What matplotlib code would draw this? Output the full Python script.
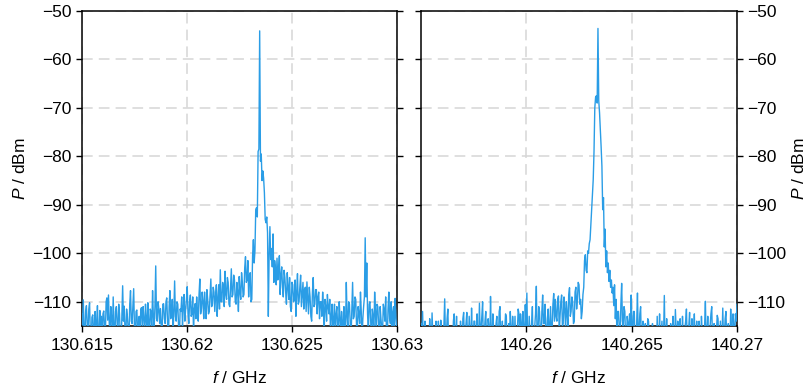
import numpy as np
import matplotlib
matplotlib.use('Agg')
import matplotlib.pyplot as plt

plt.rcParams['font.family'] = 'Liberation Sans'
plt.rcParams['mathtext.fontset'] = 'custom'
plt.rcParams['mathtext.rm'] = 'Liberation Sans'
plt.rcParams['mathtext.it'] = 'Liberation Sans:italic'

# ==============================
# sweep settings (401 points per span)
# ==============================
f_start_a, f_stop_a = 130.615, 130.630
f_start_b, f_stop_b = 140.255, 140.270
n_points = 401

# trace A, dBm
p_a = [
    -112.5, -114.8, -109.6, -116.0, -118.0, -112.0, -110.8, -115.0, -116.5, -111.5,
    -110.2, -117.0, -119.5, -113.2, -112.7, -115.5, -117.0, -112.0, -121.0, -114.0,
    -110.8, -116.2, -118.5, -111.8, -115.8, -113.0, -120.0, -112.5, -111.9, -115.0,
    -117.2, -110.0, -109.2, -113.8, -108.6, -114.5, -116.0, -111.0, -113.5, -116.5,
    -109.0, -115.0, -119.0, -112.0, -111.0, -114.5, -116.5, -110.5, -112.5, -117.0,
    -120.5, -113.0, -106.7, -114.0, -110.9, -116.0, -117.5, -111.5, -113.0, -115.5,
    -118.0, -110.5, -107.7, -114.0, -114.5, -111.0, -107.3, -115.5, -119.0, -112.0,
    -111.7, -116.0, -116.0, -113.0, -120.0, -111.5, -111.2, -115.0, -111.0, -113.5,
    -117.5, -110.5, -113.5, -116.0, -110.2, -114.0, -118.5, -111.5, -112.0, -115.5,
    -107.7, -113.0, -115.5, -111.0, -102.6, -113.5, -114.0, -110.0, -111.5, -114.5,
    -111.4, -115.0, -117.0, -110.5, -110.4, -113.5, -114.5, -110.0, -109.2, -114.0,
    -119.5, -111.0, -107.7, -113.5, -113.0, -109.5, -116.5, -112.0, -105.7, -113.0,
    -114.0, -110.0, -110.5, -115.0, -118.0, -111.5, -112.0, -109.0, -115.0, -111.0,
    -108.5, -114.0, -111.5, -109.5, -106.9, -112.5, -114.5, -110.0, -108.6, -113.0,
    -112.5, -109.0, -116.0, -111.5, -110.4, -113.5, -109.0, -112.0, -114.0, -108.5,
    -105.3, -112.5, -111.5, -108.0, -110.0, -113.5, -108.0, -111.0, -113.5, -107.5,
    -109.5, -112.5, -112.0, -108.5, -105.3, -111.0, -110.5, -107.0, -108.0, -112.0,
    -108.9, -106.5, -113.0, -109.5, -106.5, -111.5, -103.4, -110.0, -110.0, -106.0,
    -107.0, -111.0, -103.7, -108.5, -109.5, -105.0, -106.0, -110.5, -111.0, -107.0,
    -103.2, -109.0, -108.5, -104.5, -105.5, -110.0, -110.5, -106.0, -108.0, -112.0,
    -104.8, -108.0, -109.5, -104.0, -106.0, -109.0, -108.5, -103.0, -100.7, -106.0,
    -105.5, -101.5, -109.0, -104.5, -104.0, -110.0, -109.5, -100.5, -97.2, -102.0,
    -99.5, -91.0, -90.6, -92.5, -79.0, -78.5, -54.1, -81.0, -79.5, -85.0,
    -83.0, -84.5, -87.5, -93.0, -93.7, -92.5, -95.8, -113.0, -100.3, -94.5,
    -101.3, -99.0, -102.8, -96.0, -106.0, -101.5, -103.0, -106.5, -101.0, -105.5,
    -103.4, -100.5, -108.5, -104.5, -102.8, -107.0, -109.0, -103.5, -105.0, -108.0,
    -110.5, -104.0, -107.0, -109.5, -105.0, -111.0, -112.0, -106.0, -106.5, -110.0,
    -109.5, -105.5, -113.0, -108.0, -104.2, -110.5, -110.0, -107.0, -104.5, -111.0,
    -108.5, -106.0, -111.5, -107.5, -107.0, -112.0, -105.9, -109.0, -112.5, -107.0,
    -109.0, -113.0, -114.0, -108.0, -105.0, -111.0, -110.5, -107.5, -107.5, -112.5,
    -109.0, -108.0, -113.5, -110.0, -110.0, -113.0, -108.0, -111.5, -115.5, -109.5,
    -111.0, -114.0, -108.5, -111.0, -112.5, -109.5, -117.0, -113.0, -110.5, -115.5,
    -114.0, -110.5, -118.0, -112.5, -111.0, -115.0, -116.0, -110.0, -113.5, -116.5,
    -112.0, -114.0, -119.0, -111.0, -114.5, -116.0, -106.0, -113.0, -115.5, -110.0,
    -110.5, -114.5, -117.5, -111.5, -106.0, -113.5, -113.0, -109.0, -109.5, -115.0,
    -116.0, -111.0, -112.5, -114.5, -108.0, -112.0, -118.0, -113.5, -111.0, -109.0,
    -96.8, -109.0, -102.0, -112.5, -116.5, -110.5, -110.0, -114.0, -119.0, -111.5,
    -113.0, -116.5, -108.0, -112.0, -117.0, -110.5, -111.0, -114.5, -120.0, -111.0,
    -113.5, -115.5, -116.5, -110.5, -111.5, -114.0, -109.0, -116.0, -118.0, -111.5,
    -108.0, -113.5, -114.5, -110.0, -119.5, -112.0, -111.0, -115.5, -109.3, -113.0,
    -116.0,
]

# trace B, dBm
p_b = [
    -114.5, -117.5, -112.0, -119.0, -119.0, -114.0, -121.0, -116.0, -117.5, -120.0,
    -120.0, -113.5, -118.0, -120.5, -112.3, -117.0, -122.0, -118.5, -116.5, -114.0,
    -119.5, -121.0, -114.0, -117.0, -121.0, -113.8, -116.0, -119.5, -120.5, -115.0,
    -109.4, -118.0, -118.5, -113.5, -111.5, -119.0, -120.0, -115.5, -117.0, -121.0,
    -121.5, -114.0, -112.5, -118.0, -118.0, -113.0, -120.0, -116.5, -116.5, -120.5,
    -114.0, -117.0, -121.0, -113.5, -112.2, -119.0, -117.5, -114.5, -112.2, -118.5,
    -119.0, -113.0, -116.5, -120.0, -111.3, -117.5, -120.5, -114.0, -114.0, -119.0,
    -118.0, -112.5, -121.0, -117.0, -110.3, -118.0, -115.5, -113.0, -110.0, -119.5,
    -117.0, -114.0, -112.0, -118.5, -120.0, -113.5, -115.5, -120.5, -108.9, -117.0,
    -119.0, -112.5, -116.0, -119.0, -121.5, -114.5, -113.0, -118.0, -117.5, -112.0,
    -111.0, -119.5, -118.5, -114.0, -121.0, -116.5, -116.0, -112.5, -113.0, -119.0,
    -120.0, -114.5, -117.5, -112.0, -115.5, -120.0, -113.0, -116.5, -119.5, -113.0,
    -121.0, -117.0, -116.0, -111.5, -112.5, -118.0, -112.5, -114.5, -118.0, -112.0,
    -115.5, -119.5, -110.6, -116.0, -108.2, -117.5, -119.0, -113.0, -116.5, -120.0,
    -114.8, -111.0, -120.5, -116.5, -115.0, -112.5, -106.8, -118.0, -117.5, -111.0,
    -112.0, -116.0, -119.0, -112.0, -108.6, -114.5, -114.5, -110.5, -116.0, -119.0,
    -113.5, -111.5, -118.5, -114.5, -111.0, -117.0, -116.0, -110.5, -108.3, -114.0,
    -109.5, -113.0, -114.0, -109.5, -108.8, -116.5, -113.0, -110.0, -108.6, -115.0,
    -114.5, -109.0, -111.5, -115.5, -110.0, -112.5, -115.5, -108.5, -107.1, -113.0,
    -112.0, -109.0, -110.0, -114.5, -114.0, -108.0, -107.0, -111.5, -109.5, -106.0,
    -106.5, -110.5, -109.5, -113.5, -112.0, -108.5, -107.0, -101.5, -100.3, -103.5,
    -104.0, -99.5, -100.0, -98.0, -97.2, -94.0, -90.4, -88.0, -84.8, -79.0,
    -70.0, -67.8, -67.5, -69.0, -53.6, -68.5, -71.0, -74.5, -78.0, -82.0,
    -91.0, -88.5, -98.7, -95.0, -102.8, -99.5, -104.0, -102.0, -105.8, -103.5,
    -107.0, -105.5, -108.2, -107.0, -110.8, -106.5, -113.5, -109.5, -117.0, -112.0,
    -112.0, -115.5, -118.5, -110.5, -106.2, -114.0, -115.0, -111.0, -112.0, -117.5,
    -119.0, -113.0, -114.5, -116.5, -112.5, -118.0, -108.6, -115.0, -117.5, -112.0,
    -112.0, -119.0, -120.0, -114.5, -108.2, -117.0, -116.5, -112.5, -111.0, -119.0,
    -118.0, -114.0, -121.0, -116.0, -114.5, -120.5, -119.5, -113.5, -114.0, -118.0,
    -117.0, -121.0, -121.5, -114.5, -118.5, -120.0, -115.5, -117.5, -120.0, -113.0,
    -122.0, -118.0, -112.5, -120.0, -117.0, -114.0, -120.5, -117.5, -108.7, -119.0,
    -118.0, -113.5, -121.0, -117.0, -116.5, -120.5, -114.5, -118.0, -119.5, -113.0,
    -117.0, -120.0, -111.6, -116.0, -120.0, -114.0, -116.0, -119.5, -113.5, -117.0,
    -121.5, -113.0, -118.0, -120.0, -115.5, -114.0, -111.5, -118.5, -119.0, -115.0,
    -112.2, -120.0, -118.5, -113.5, -120.5, -117.0, -112.5, -119.5, -117.0, -114.0,
    -121.0, -118.0, -114.0, -120.5, -119.5, -113.0, -116.5, -119.0, -121.5, -115.0,
    -109.9, -118.5, -117.5, -113.0, -120.0, -116.0, -115.0, -112.5, -111.0, -118.0,
    -118.5, -114.5, -121.0, -117.0, -116.0, -112.8, -113.5, -119.0, -119.0, -114.0,
    -120.5, -117.5, -111.3, -119.0, -117.0, -113.5, -112.0, -118.0, -121.0, -114.5,
    -116.5, -119.5, -111.5, -116.0, -119.0, -112.5, -115.0, -118.0, -112.5, -114.0,
    -110.5,
]

xticks_a = [130.615, 130.62, 130.625, 130.63]
xticks_b = [140.26, 140.265, 140.27]
yticks = [-110, -100, -90, -80, -70, -60, -50]

line_color = '#2A9DE6'
grid_color = '#d6d6d6'

f_a = np.linspace(f_start_a, f_stop_a, n_points)
f_b = np.linspace(f_start_b, f_stop_b, n_points)

fig = plt.figure(figsize=(8.08, 3.9), dpi=100)
ax_a = fig.add_axes([81.7 / 808, 64 / 390, 315 / 808, 315 / 390])
ax_b = fig.add_axes([421 / 808, 64 / 390, 316 / 808, 315 / 390])

for ax, f, p, f0, f1, xt in [(ax_a, f_a, p_a, f_start_a, f_stop_a, xticks_a),
                             (ax_b, f_b, p_b, f_start_b, f_stop_b, xticks_b)]:
    ax.plot(f, p, color=line_color, lw=1.0, zorder=3)
    ax.set_xlim(f0, f1)
    ax.set_ylim(-115, -50)
    ax.set_xticks(xt)
    ax.set_xticklabels([f'{v:g}' for v in xt])
    ax.set_yticks(yticks)
    ax.set_yticklabels([f'\u2212{abs(v)}' for v in yticks])
    ax.grid(True, color=grid_color, lw=1.1, linestyle=(0, (7, 4)), zorder=0)
    ax.set_axisbelow(True)
    ax.tick_params(direction='out', length=4, width=1, labelsize=12.5,
                   left=True, right=True, colors='black')
    ax.tick_params(axis='x', pad=5)
    for s in ax.spines.values():
        s.set_linewidth(1.1)
        s.set_color('black')
    ax.set_xlabel('$f$ / GHz', fontsize=12.5, labelpad=12)

ax_a.tick_params(labelleft=True, labelright=False)
ax_a.set_ylabel('$P$ / dBm', fontsize=12.5, labelpad=3)

ax_b.tick_params(labelleft=False, labelright=True)
ax_b.yaxis.set_label_position('right')
ax_b.set_ylabel('$P$ / dBm', fontsize=12.5, labelpad=3)

fig.savefig('out.png', dpi=100)
